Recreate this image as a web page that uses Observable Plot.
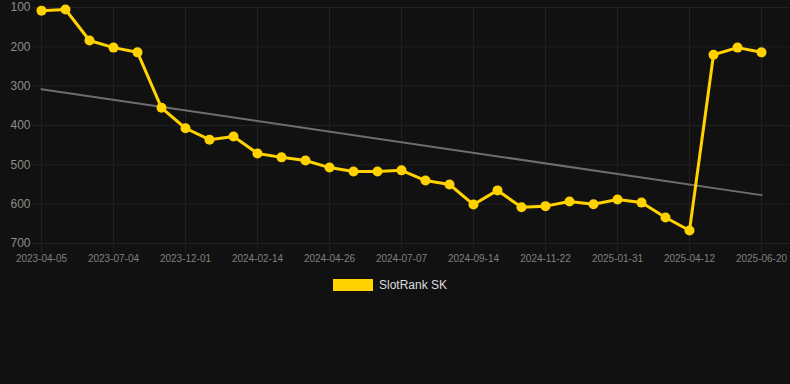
<!DOCTYPE html>
<html>
<head>
<meta charset="utf-8">
<script src="https://cdn.jsdelivr.net/npm/d3@7"></script>
<script src="https://cdn.jsdelivr.net/npm/@observablehq/plot@0.6"></script>
<style>
  html, body { margin: 0; padding: 0; background: #111111; }
  #chart { width: 790px; height: 384px; background: #111111; font-family: "Liberation Sans", Arial, sans-serif; }
  .legend { display: flex; justify-content: center; align-items: center; margin-top: 8px; margin-left: -10px; }
  .swatch { width: 40px; height: 12px; background: #ffd200; margin-right: 6px; }
  .legend span { color: #dddddd; font-size: 12px; }
</style>
</head>
<body>
<div id="chart"></div>
<script>
// Rank values (lower is better), one per sampled point in time
const ranks = [108, 105, 184, 202, 214, 355, 407, 436, 428, 471, 481, 489, 507, 517, 517, 514,
               540, 550, 601, 565, 608, 605, 593, 600, 588, 596, 634, 667, 220, 202, 214];
// Labelled dates on the x axis (every third sample)
const tickIndex = [0, 3, 6, 9, 12, 15, 18, 21, 24, 27, 30];
const tickLabels = ["2023-04-05", "2023-07-04", "2023-12-01", "2024-02-14", "2024-04-26",
                    "2024-07-07", "2024-09-14", "2024-11-22", "2025-01-31", "2025-04-12", "2025-06-20"];
const yTicks = [100, 200, 300, 400, 500, 600, 700];
const seriesName = "SlotRank SK";

const data = ranks.map((v, i) => ({i, v}));
const labelOf = new Map(tickIndex.map((t, k) => [t, tickLabels[k]]));

const plot = Plot.plot({
  width: 790,
  height: 270,
  marginTop: 7,
  marginBottom: 27,
  marginLeft: 32,
  marginRight: 0,
  style: {background: "#111111", fontFamily: "Liberation Sans, Arial, sans-serif"},
  x: {type: "point", domain: d3.range(ranks.length), insetLeft: 8, insetRight: 29, padding: 0, label: null},
  y: {domain: [100, 700], reverse: true, label: null},
  marks: [
    Plot.gridY(yTicks, {stroke: "#202020", strokeOpacity: 1}),
    Plot.gridX(tickIndex, {stroke: "#202020", strokeOpacity: 1}),
    Plot.axisX(tickIndex, {tickSize: 10, stroke: "#202020", tickPadding: 1, fontSize: 10, label: null,
      tickFormat: d => labelOf.get(d), fill: "#808080"}),
    Plot.axisY(yTicks, {tickSize: 0, tickPadding: 2, fontSize: 12, fill: "#8c8c8c", label: null}),
    Plot.linearRegressionY(data, {x: "i", y: "v", ci: 0, stroke: "#6e6e6e", strokeWidth: 2}),
    Plot.line(data, {x: "i", y: "v", stroke: "#ffd200", strokeWidth: 3}),
    Plot.dot(data, {x: "i", y: "v", r: 5, fill: "#ffd200"})
  ]
});

const chart = document.getElementById("chart");
chart.appendChild(plot);
const legend = document.createElement("div");
legend.className = "legend";
legend.innerHTML = `<div class="swatch"></div><span></span>`;
legend.querySelector("span").textContent = seriesName;
chart.appendChild(legend);
</script>
</body>
</html>
